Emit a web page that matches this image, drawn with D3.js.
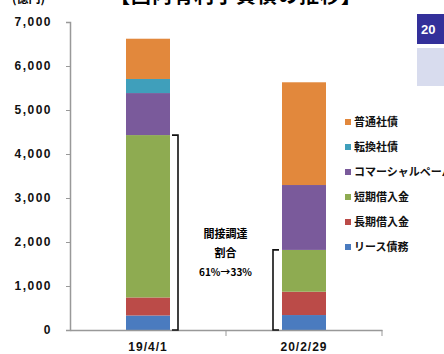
<!DOCTYPE html>
<html>
<head>
<meta charset="utf-8">
<script src="https://d3js.org/d3.v7.min.js"></script>
<style>
  body { margin: 0; background: #fff; }
  svg { display: block; font-family: "Noto Sans CJK JP", "Liberation Sans", sans-serif; }
</style>
</head>
<body>
<div id="chart"></div>
<script>
// data (億円)
const dates = ["19/4/1", "20/2/29"];
const seriesNames = ["リース債務", "長期借入金", "短期借入金", "コマーシャルペーパー", "転換社債", "普通社債"];
const seriesColors = ["#4a7bbf", "#bb4b48", "#8eab51", "#7a5a9b", "#3f9fbb", "#e2883c"];
const leaseDebt = [330, 340];
const longLoans = [410, 530];
const shortLoans = [3690, 950];
const commercialPaper = [955, 1475];
const convertibleBonds = [320, 0];
const straightBonds = [915, 2335];
const yTicks = [0, 1000, 2000, 3000, 4000, 5000, 6000, 7000];

const width = 444, height = 354;
const margin = { top: 22, right: 62, bottom: 24, left: 70 };

const svg = d3.select("#chart").append("svg")
  .attr("width", width).attr("height", height);

const x = d3.scaleBand().domain(dates)
  .range([margin.left, width - margin.right]);
const y = d3.scaleLinear().domain([0, 7000])
  .range([height - margin.bottom, margin.top]);
const barW = 44;

// stack the series
const values = [leaseDebt, longLoans, shortLoans, commercialPaper, convertibleBonds, straightBonds];
const rows = dates.map((d, i) => {
  const r = { date: d };
  seriesNames.forEach((s, k) => r[s] = values[k][i]);
  return r;
});
const stacked = d3.stack().keys(seriesNames)(rows);

svg.append("g").selectAll("g")
  .data(stacked)
  .join("g")
  .attr("fill", (d, i) => seriesColors[i])
  .selectAll("rect")
  .data(d => d)
  .join("rect")
  .attr("x", d => x(d.data.date) + (x.bandwidth() - barW) / 2)
  .attr("y", d => y(d[1]))
  .attr("width", barW)
  .attr("height", d => y(d[0]) - y(d[1]));

// axes
const yAxis = svg.append("g")
  .attr("transform", `translate(${margin.left},0)`)
  .call(d3.axisLeft(y).tickValues(yTicks).tickSize(4).tickPadding(14)
    .tickFormat(d3.format(",")));
yAxis.select(".domain").attr("stroke", "#999").attr("stroke-width", 1.5);
yAxis.selectAll(".tick line").attr("stroke", "#999");
yAxis.selectAll("text")
  .style("font-family", "Liberation Sans, sans-serif")
  .style("font-size", "12px").style("font-weight", "bold")
  .style("letter-spacing", "1.5px").attr("fill", "#111");

const xAxis = svg.append("g")
  .attr("transform", `translate(0,${y(0)})`)
  .call(d3.axisBottom(x).tickSize(0).tickPadding(12));
xAxis.select(".domain").attr("stroke", "#999").attr("stroke-width", 1.5);
xAxis.selectAll("text")
  .style("font-family", "Liberation Sans, sans-serif")
  .style("font-size", "12px").style("font-weight", "bold")
  .style("letter-spacing", "1px").attr("fill", "#111");
// category separators
xAxis.selectAll(".sep")
  .data([x(dates[1]), x.range()[1]])
  .join("line")
  .attr("x1", d => d).attr("x2", d => d)
  .attr("y1", 0).attr("y2", 6)
  .attr("stroke", "#999");

// brackets for indirect financing share
const indirect = i => leaseDebt[i] + longLoans[i] + shortLoans[i];
const b1 = x(dates[0]) + (x.bandwidth() + barW) / 2 + 8;
const b2 = x(dates[1]) + (x.bandwidth() - barW) / 2 - 9;
const bracket = (bx, top, dir) =>
  `M${bx - 6 * dir},${top}H${bx}V${y(0)}H${bx - 6 * dir}`;
svg.append("path").attr("d", bracket(b1, y(indirect(0)), 1))
  .attr("fill", "none").attr("stroke", "#111").attr("stroke-width", 1.6);
svg.append("path").attr("d", bracket(b2, y(indirect(1)), -1))
  .attr("fill", "none").attr("stroke", "#111").attr("stroke-width", 1.6);

const noteX = (b1 + b2) / 2;
svg.append("text").attr("x", noteX).attr("y", 238)
  .attr("text-anchor", "middle").style("font-size", "11px").style("font-weight", "bold")
  .text("間接調達");
svg.append("text").attr("x", noteX).attr("y", 257)
  .attr("text-anchor", "middle").style("font-size", "11px").style("font-weight", "bold")
  .text("割合");
svg.append("text").attr("x", noteX).attr("y", 276)
  .attr("text-anchor", "middle").style("font-size", "10px").style("font-weight", "bold")
  .text("61%→33%");

// legend (top to bottom: reverse of stack)
const legend = svg.append("g").attr("transform", "translate(345,122)");
const items = seriesNames.map((s, i) => ({ name: s, color: seriesColors[i] })).reverse();
const li = legend.selectAll("g").data(items).join("g")
  .attr("transform", (d, i) => `translate(0,${i * 25})`);
li.append("rect").attr("x", 0).attr("y", -3).attr("width", 6).attr("height", 6)
  .attr("fill", d => d.color);
li.append("text").attr("x", 9).attr("y", 4)
  .style("font-size", "11px").style("font-weight", "bold").attr("fill", "#111")
  .text(d => d.name);

// header texts (cut off at top)
svg.append("text").attr("x", 12).attr("y", 3)
  .style("font-size", "12px").style("font-weight", "bold").text("(億円)");
svg.append("text").attr("x", 110).attr("y", 3)
  .style("font-size", "20px").style("font-weight", "bold")
  .style("letter-spacing", "1px").text("【国内有利子負債の推移】");

// corner badge
svg.append("rect").attr("x", 417).attr("y", 14).attr("width", 30).attr("height", 30)
  .attr("fill", "#33309a");
svg.append("text").attr("x", 421).attr("y", 34).attr("fill", "#fff")
  .style("font-family", "Liberation Sans, sans-serif")
  .style("font-size", "13px").style("font-weight", "bold").text("20");
svg.append("rect").attr("x", 417).attr("y", 48).attr("width", 30).attr("height", 38)
  .attr("fill", "#d8dcee");
</script>
</body>
</html>
